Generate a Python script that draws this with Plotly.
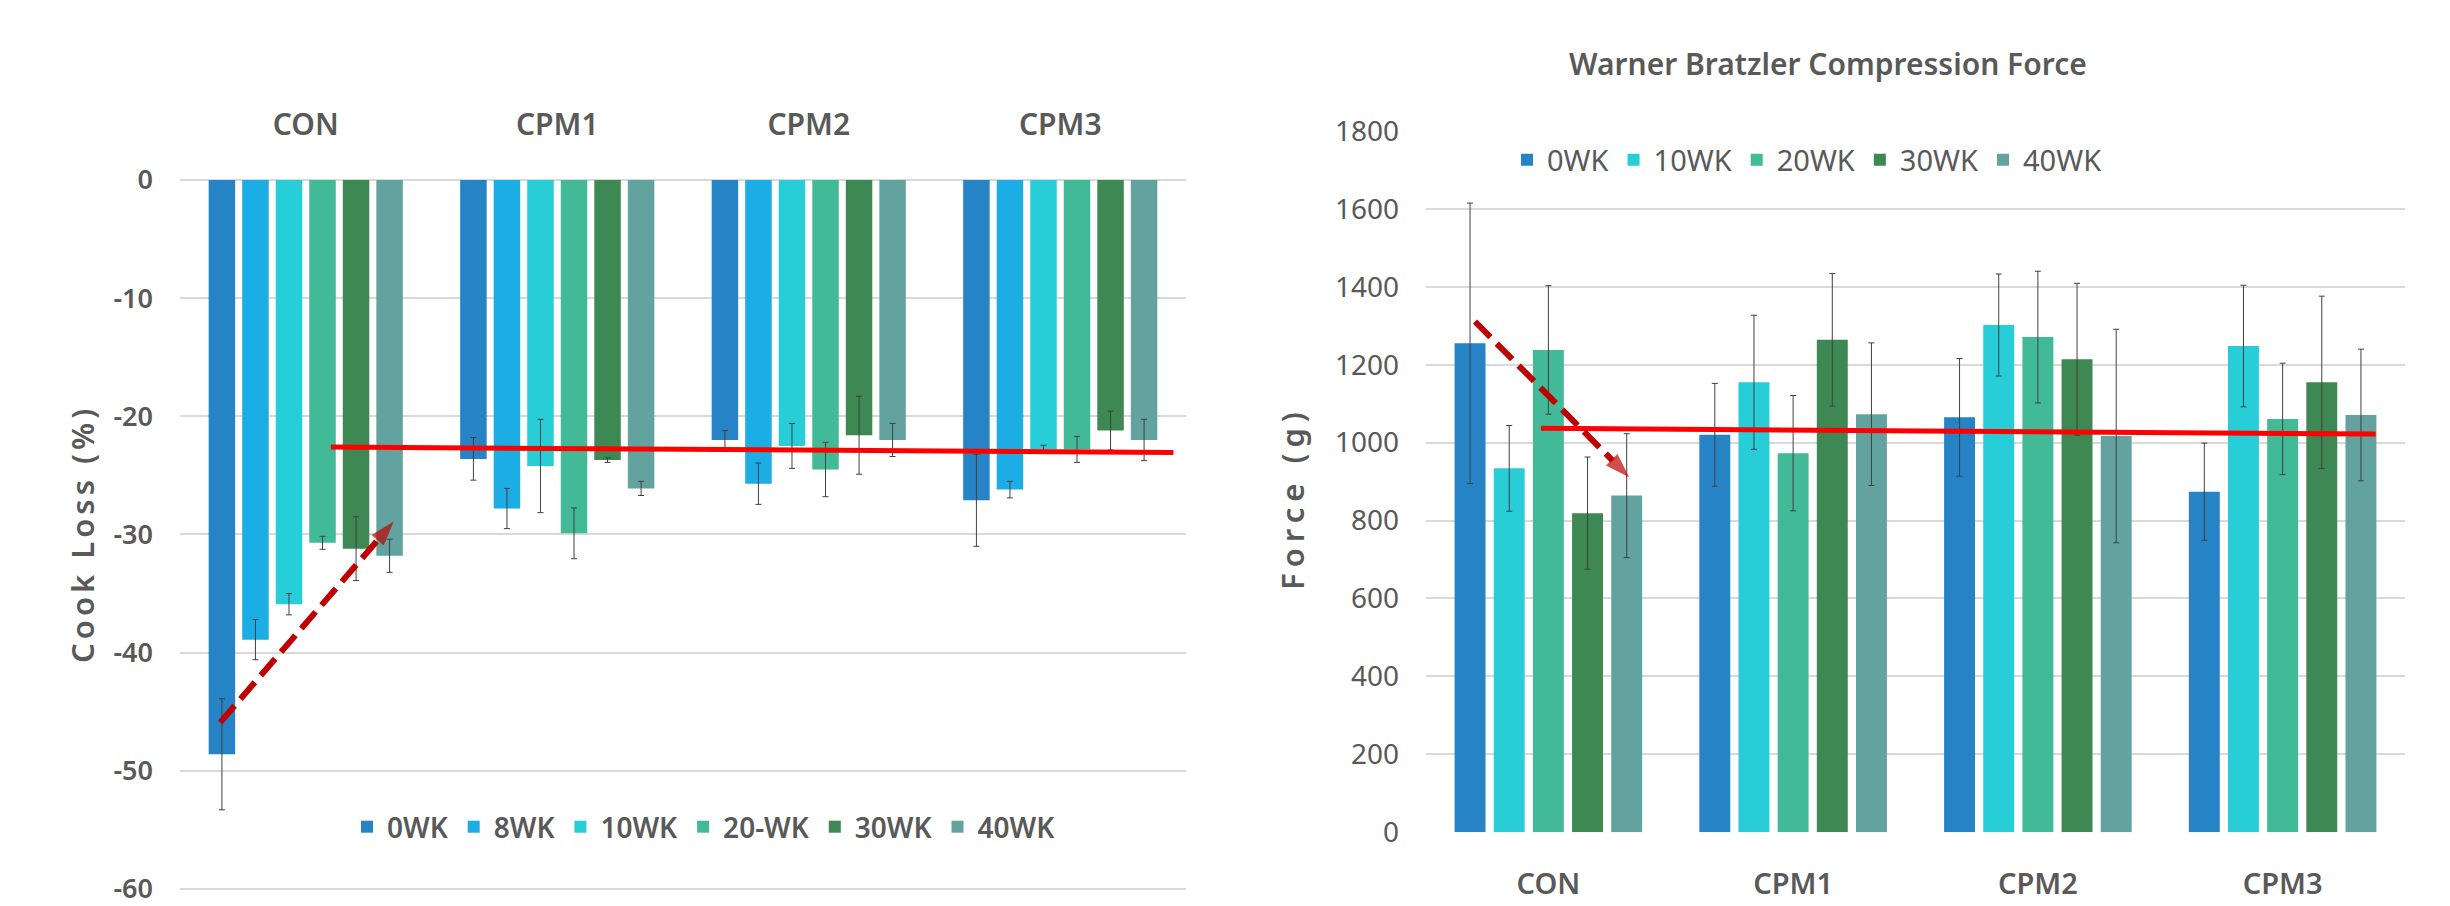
import plotly.graph_objects as go

# ---------------- data ----------------
groups = ["CON", "CPM1", "CPM2", "CPM3"]

cook_series = ["0WK", "8WK", "10WK", "20-WK", "30WK", "40WK"]
cook_values = {
    "0WK":   [-48.6, -23.6, -22.0, -27.1],
    "8WK":   [-38.9, -27.8, -25.7, -26.2],
    "10WK":  [-35.9, -24.2, -22.5, -22.8],
    "20-WK": [-30.7, -29.9, -24.5, -22.8],
    "30WK":  [-31.2, -23.7, -21.6, -21.2],
    "40WK":  [-31.8, -26.1, -22.0, -22.0],
}
cook_err = {
    "0WK":   [4.7, 1.8, 0.8, 3.9],
    "8WK":   [1.7, 1.7, 1.75, 0.7],
    "10WK":  [0.9, 3.95, 1.9, 0.35],
    "20-WK": [0.55, 2.15, 2.3, 1.1],
    "30WK":  [2.7, 0.2, 3.3, 1.65],
    "40WK":  [1.4, 0.6, 1.4, 1.75],
}

force_series = ["0WK", "10WK", "20WK", "30WK", "40WK"]
force_values = {
    "0WK":  [1255, 1020, 1065, 874],
    "10WK": [934, 1155, 1302, 1248],
    "20WK": [1238, 973, 1271, 1061],
    "30WK": [819, 1264, 1214, 1155],
    "40WK": [864, 1073, 1017, 1071],
}
force_err = {
    "0WK":  [360, 132, 151, 125],
    "10WK": [110, 172, 131, 156],
    "20WK": [165, 148, 169, 143],
    "30WK": [144, 170, 195, 221],
    "40WK": [159, 183, 274, 169],
}

# annotation lines (category-axis positions, value-axis values)
cook_trend_x = [0.10, 3.45]
cook_trend_y = [-22.6, -23.05]
cook_arrow_x = [-0.34, 0.35]
cook_arrow_y = [-45.9, -28.9]

force_trend_x = [-0.03, 3.38]
force_trend_y = [1037, 1022]
force_arrow_x = [-0.30, 0.33]
force_arrow_y = [1311, 911]

cook_ticks = [0, -10, -20, -30, -40, -50, -60]
cook_ticktext = ["0", "-10", "-20", "-30", "-40", "-50", "-60"]
force_ticks = [0, 200, 400, 600, 800, 1000, 1200, 1400, 1600, 1800]

colors = {
    "0WK": "#2683C6", "8WK": "#1CADE4", "10WK": "#27CED7",
    "20-WK": "#42BA97", "20WK": "#42BA97", "30WK": "#3E8853", "40WK": "#62A39F",
}

TXT = "#595959"
FONT = "Noto Sans, Open Sans, DejaVu Sans, sans-serif"

fig = go.Figure()

for s in cook_series:
    fig.add_trace(go.Bar(
        x=groups, y=cook_values[s], name=s, marker_color=colors[s],
        marker_line_width=0,
        error_y=dict(type="data", array=cook_err[s], color="#404040", thickness=1, width=3),
        xaxis="x", yaxis="y", legend="legend",
    ))

for s in force_series:
    fig.add_trace(go.Bar(
        x=groups, y=force_values[s], name=s, marker_color=colors[s],
        marker_line_width=0,
        error_y=dict(type="data", array=force_err[s], color="#404040", thickness=1, width=3),
        xaxis="x2", yaxis="y2", legend="legend2",
    ))

arrow_marker = dict(symbol="arrow", angleref="previous", size=[0, 26],
                    color="#C00000", line_width=0)

fig.add_trace(go.Scatter(x=cook_trend_x, y=cook_trend_y, mode="lines",
                         line=dict(color="#FF0000", width=5),
                         xaxis="x3", yaxis="y", showlegend=False, hoverinfo="skip"))
fig.add_trace(go.Scatter(x=cook_arrow_x, y=cook_arrow_y, mode="lines+markers",
                         line=dict(color="#C00000", width=6, dash="22px,9px"),
                         marker=arrow_marker,
                         xaxis="x3", yaxis="y", showlegend=False, hoverinfo="skip"))
fig.add_trace(go.Scatter(x=force_trend_x, y=force_trend_y, mode="lines",
                         line=dict(color="#FF0000", width=5),
                         xaxis="x4", yaxis="y2", showlegend=False, hoverinfo="skip"))
fig.add_trace(go.Scatter(x=force_arrow_x, y=force_arrow_y, mode="lines+markers",
                         line=dict(color="#C00000", width=6, dash="22px,9px"),
                         marker=arrow_marker,
                         xaxis="x4", yaxis="y2", showlegend=False, hoverinfo="skip"))

W, H = 2450, 906
# left value axis: 0 at y=180px, -60 at y=889px; pad range a little so edge grid lines draw
L_pad = 0.2
L_px = (889 - 180) / 60.0
L_dom_x = [180 / W, 1186 / W]
L_dom_y = [(H - 889 - L_pad * L_px) / H, (H - 180 + L_pad * L_px) / H]
R_dom_x = [1426 / W, 2405 / W]
R_dom_y = [(H - 832.2) / H, (H - 131) / H]

fig.update_layout(
    width=W, height=H, margin=dict(l=0, r=0, t=0, b=0, autoexpand=False),
    paper_bgcolor="white", plot_bgcolor="white",
    barmode="group", bargap=0.2, bargroupgap=0.21,
    font=dict(family=FONT, color=TXT),
    xaxis=dict(domain=L_dom_x, anchor="y", side="top", type="category",
               categoryorder="array", categoryarray=groups, automargin=False,
               showgrid=False, showline=False, zeroline=False, ticks="",
               tickfont=dict(size=30, color=TXT, weight=600), ticklabelstandoff=36),
    yaxis=dict(domain=L_dom_y, anchor="x", range=[-60 - L_pad, 0 + L_pad],
               tickvals=cook_ticks, ticktext=cook_ticktext, automargin=False,
               ticklabeloverflow="allow",
               showgrid=True, gridcolor="#D9D9D9", gridwidth=2, zeroline=False,
               showline=False, ticks="",
               tickfont=dict(size=27, color=TXT, weight=600), ticklabelstandoff=26),
    xaxis3=dict(domain=L_dom_x, anchor="y", overlaying="x", range=[-0.5, 3.5],
                visible=False, automargin=False),
    xaxis2=dict(domain=R_dom_x, anchor="y2", side="bottom", type="category",
                categoryorder="array", categoryarray=groups, automargin=False,
                showgrid=False, showline=False, zeroline=False, ticks="",
                tickfont=dict(size=29, color=TXT, weight=600), ticklabelstandoff=32),
    yaxis2=dict(domain=R_dom_y, anchor="x2", range=[0, 1800], tickvals=force_ticks,
                automargin=False, ticklabeloverflow="allow",
                showgrid=True, gridcolor="#D9D9D9", gridwidth=2, zeroline=False,
                showline=False, ticks="",
                tickfont=dict(size=28, color=TXT), ticklabelstandoff=26),
    xaxis4=dict(domain=R_dom_x, anchor="y2", overlaying="x2", range=[-0.5, 3.5],
                visible=False, automargin=False),
    legend=dict(orientation="h", x=347 / W, y=(H - 827) / H, xanchor="left",
                yanchor="middle", font=dict(size=28, color=TXT, weight=600),
                bgcolor="rgba(0,0,0,0)", traceorder="normal"),
    legend2=dict(orientation="h", x=1507 / W, y=(H - 160) / H, xanchor="left",
                 yanchor="middle", font=dict(size=29, color=TXT),
                 bgcolor="rgba(0,0,0,0)", traceorder="normal"),
    showlegend=True,
    annotations=[
        dict(text='<span style="letter-spacing:4px">Cook Loss (%)</span>',
             textangle=-90, x=82 / W, y=(H - 534) / H,
             xref="paper", yref="paper", xanchor="center", yanchor="middle",
             showarrow=False, font=dict(size=31, color=TXT, weight=600)),
        dict(text='<span style="letter-spacing:6px">Force (g)</span>',
             textangle=-90, x=1292 / W, y=(H - 498) / H,
             xref="paper", yref="paper", xanchor="center", yanchor="middle",
             showarrow=False, font=dict(size=31, color=TXT, weight=600)),
        dict(text="Warner Bratzler Compression Force", x=1828 / W, y=(H - 63) / H,
             xref="paper", yref="paper", xanchor="center", yanchor="middle",
             showarrow=False, font=dict(size=30, color=TXT, weight=600)),
    ],
)

fig.write_html("out.html",
               config={"displayModeBar": False},
               post_script="document.body.style.margin='0px';"
                           "document.documentElement.style.overflow='hidden';")
